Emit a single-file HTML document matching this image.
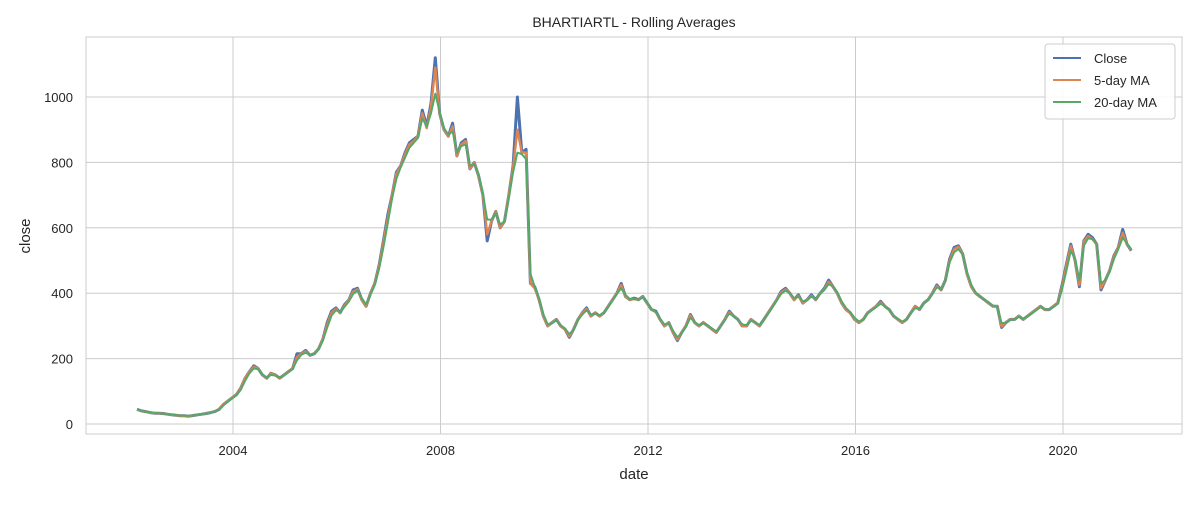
<!DOCTYPE html>
<html><head><meta charset="utf-8"><style>
body{margin:0;background:#fff;font-family:"Liberation Sans",Arial,sans-serif;}
svg text{font-family:"Liberation Sans",Arial,sans-serif;fill:#262626;}
</style></head><body>
<svg id="chart" width="1200" height="500">
<rect x="0" y="0" width="1200" height="500" fill="#fff"/>
<text x="634" y="27" font-size="14" text-anchor="middle">BHARTIARTL - Rolling Averages</text>
<g id="grid"></g>
<g id="series"></g>
<rect x="86" y="37" width="1096" height="397" fill="none" stroke="#ccc" stroke-width="1"/>
<text x="634" y="479" font-size="15" text-anchor="middle">date</text>
<text x="30" y="236" font-size="15" text-anchor="middle" transform="rotate(-90 30 236)">close</text>
<g>
<rect x="1045" y="44" width="130" height="75" rx="3" fill="#fff" fill-opacity="0.85" stroke="#ccc"/>
<g><line x1="1053" y1="58" x2="1081" y2="58" stroke="#4c72b0" stroke-width="2"/><text x="1094" y="63" font-size="13">Close</text></g>
<g><line x1="1053" y1="80" x2="1081" y2="80" stroke="#dd8452" stroke-width="2"/><text x="1094" y="85" font-size="13">5-day MA</text></g>
<g><line x1="1053" y1="102" x2="1081" y2="102" stroke="#55a868" stroke-width="2"/><text x="1094" y="107" font-size="13">20-day MA</text></g>
</g>
</svg>
<script>
const startYear = 2002.15;
const close = [45,40,38,35,33,33,32,30,28,27,25,
25,24,26,28,30,32,35,38,45,60,70,80,
90,110,140,160,178,170,150,140,155,150,140,150,
160,170,215,215,225,210,215,230,260,310,345,355,
340,365,380,410,415,380,360,400,430,485,560,640,
700,770,790,830,860,870,880,960,910,980,1120,950,
900,880,920,820,860,870,780,800,760,700,560,620,
650,600,620,700,790,1000,830,840,430,420,380,330,
300,310,320,300,290,265,290,320,340,355,330,340,
330,340,360,380,400,430,390,380,385,380,390,370,
350,345,320,300,310,280,255,280,300,335,310,300,
310,300,290,280,300,320,345,330,320,300,300,320,
310,300,320,340,360,380,405,415,400,380,395,370,
380,395,380,400,415,440,420,400,370,350,340,320,
310,320,340,350,360,375,360,350,330,320,310,320,
340,360,350,370,380,400,425,410,440,505,540,545,
520,460,420,400,390,380,370,360,360,295,310,320,
320,330,320,330,340,350,360,350,350,360,370,425,
490,550,500,420,560,580,570,550,410,440,470,515,
540,595,550,530];
const ma5 = [44,40,38,35,33,33,32,30,28,27,25,
25,24,26,28,30,32,35,38,45,60,70,80,
90,110,140,160,175,170,150,140,155,150,140,150,
160,170,205,215,222,210,215,230,260,305,340,352,
340,362,380,405,412,380,360,400,430,482,555,630,
700,765,790,825,855,865,880,950,905,970,1090,950,
900,880,910,820,855,865,780,800,760,700,580,620,
650,600,620,700,785,900,830,830,430,415,380,330,
300,310,320,300,290,268,290,320,340,352,330,340,
330,340,360,380,400,425,390,380,382,380,390,370,
350,342,320,300,310,280,258,280,300,332,310,300,
310,300,290,280,300,320,342,330,320,300,300,320,
310,300,320,340,360,380,402,412,400,380,392,370,
380,392,380,400,412,435,420,400,370,350,340,320,
310,320,340,350,360,372,360,350,330,320,310,320,
340,360,350,370,380,400,422,410,440,500,535,542,
520,460,420,400,390,380,370,360,360,298,310,320,
320,330,320,330,340,350,360,350,350,360,370,420,
485,545,500,425,558,575,565,550,415,440,470,512,
540,585,550,532];
const ma20 = [44,41,38,36,34,33,32,30,29,27,26,
25,25,26,28,30,32,35,38,44,57,68,78,
88,105,132,155,170,168,152,142,150,148,142,148,
158,168,195,212,218,212,214,228,255,295,332,348,
342,358,375,398,408,385,365,395,425,475,540,615,
690,750,785,815,845,860,875,935,910,950,1010,955,
905,885,895,830,850,855,790,795,765,705,625,625,
645,610,620,690,770,830,825,810,460,420,385,335,
305,308,318,302,292,275,288,318,335,348,335,338,
332,340,358,378,398,415,395,382,382,380,388,372,
352,342,322,305,308,285,265,278,298,325,312,302,
308,302,292,283,298,318,338,330,320,305,302,316,
310,303,318,338,358,378,398,408,400,385,390,375,
378,390,382,398,410,428,420,402,375,355,342,325,
313,320,338,348,358,368,360,350,332,322,313,320,
338,355,352,368,380,398,418,412,438,495,525,535,
518,465,425,402,390,380,372,362,358,308,310,318,
320,328,322,330,338,348,358,352,350,358,368,412,
470,530,505,440,545,568,565,548,430,440,465,505,
535,570,552,535];

const X0=86,X1=1182,Y0=37,Y1=434;
function xs(yr){return 233+(yr-2004)*51.875;}
function ys(v){return 424-v*0.327;}
const ns='http://www.w3.org/2000/svg';
const svg=document.getElementById('chart');
const grid=document.getElementById('grid');
const yTicks=[0,200,400,600,800,1000];
const xTicks=[2004,2008,2012,2016,2020];
yTicks.forEach(t=>{
  const l=document.createElementNS(ns,'line');
  l.setAttribute('x1',X0);l.setAttribute('x2',X1);l.setAttribute('y1',ys(t));l.setAttribute('y2',ys(t));
  l.setAttribute('stroke','#ccc');
  
  
  grid.appendChild(l);
  const tx=document.createElementNS(ns,'text');
  tx.setAttribute('x',73);tx.setAttribute('y',ys(t)+5);tx.setAttribute('text-anchor','end');tx.setAttribute('font-size','13');
  tx.textContent=t;
  
  
  svg.appendChild(tx);
});
xTicks.forEach(t=>{
  const l=document.createElementNS(ns,'line');
  l.setAttribute('x1',xs(t));l.setAttribute('x2',xs(t));l.setAttribute('y1',Y0);l.setAttribute('y2',Y1);
  l.setAttribute('stroke','#ccc');
  
  
  grid.appendChild(l);
  const tx=document.createElementNS(ns,'text');
  tx.setAttribute('x',xs(t));tx.setAttribute('y',455);tx.setAttribute('text-anchor','middle');tx.setAttribute('font-size','13');
  tx.textContent=t;
  
  
  svg.appendChild(tx);
});
const g=document.getElementById('series');
function draw(arr,color,w,name){
  const p=document.createElementNS(ns,'path');
  p.setAttribute('d',arr.map((v,i)=>(i?'L':'M')+xs(startYear+i/12).toFixed(1)+' '+ys(v).toFixed(1)).join(''));
  p.setAttribute('fill','none');p.setAttribute('stroke',color);p.setAttribute('stroke-width',w);p.setAttribute('stroke-linejoin','round');
  
  
  g.appendChild(p);
}
draw(close,'#4c72b0',3,'close-line');
draw(ma5,'#dd8452',2.4,'ma5-line');
draw(ma20,'#55a868',2,'ma20-line');
</script>
</body></html>
